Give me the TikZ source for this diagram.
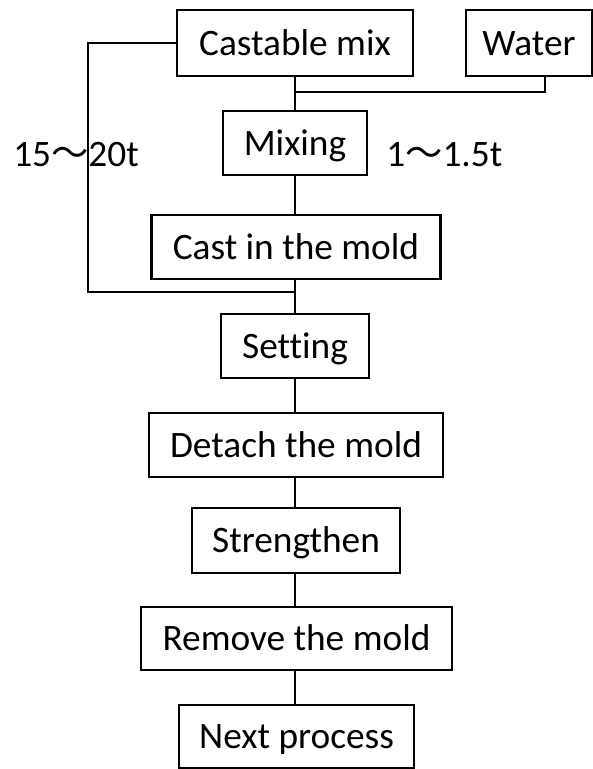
\documentclass[tikz,border=0pt]{standalone}
\usepackage{fontspec}
\setmainfont[Ligatures=CommonOff]{Carlito}
\newfontfamily\cjk{Noto Sans CJK SC}
\begin{document}
\begin{tikzpicture}[x=0.75pt,y=-0.75pt,
  stepbox/.style={draw,line width=1.9pt,rectangle,inner sep=0pt,
    font=\fontsize{28pt}{31pt}\selectfont,text height=18pt,text depth=0pt},
  conn/.style={line width=1.9pt},
  lbl/.style={inner sep=0pt,anchor=base west,font=\fontsize{28pt}{31pt}\selectfont}]
\useasboundingbox (0,0) rectangle (593,769);
\node[stepbox,minimum width=177pt,minimum height=49.5pt] (cast) at (295,43) {Castable mix};
\node[stepbox,minimum width=94.5pt,minimum height=49.5pt] (water) at (529,43) {Water};
\node[stepbox,minimum width=108pt,minimum height=48pt] (mix) at (295,143) {Mixing};
\node[stepbox,minimum width=216.75pt,minimum height=48pt] (castin) at (296,247) {Cast in the mold};
\node[stepbox,minimum width=111pt,minimum height=48pt] (set) at (295,346) {Setting};
\node[stepbox,minimum width=220.5pt,minimum height=48pt] (detach) at (296,445) {Detach the mold};
\node[stepbox,minimum width=156pt,minimum height=48.75pt] (strength) at (296,540.5) {Strengthen};
\node[stepbox,minimum width=233.25pt,minimum height=47.25pt] (remove) at (296.5,638.5) {Remove the mold};
\node[stepbox,minimum width=176.25pt,minimum height=47.25pt] (next) at (296.5,736.5) {Next process};
\node[lbl] (lA) at (13,166) {15{\cjk ～}20t};
\node[lbl] (lB) at (386,166) {1{\cjk ～}1.5t};
\coordinate (j) at (cast.south |- 0,92);
\coordinate (wdrop) at (545,76);
\coordinate (lt) at (88,43);
\coordinate (lb) at (88,292);
\coordinate (lp) at (cast.south |- 0,292);
\draw[conn] (cast.south) -- (mix.north);
\draw[conn] (wdrop) |- (j);
\draw[conn] (mix.south) -- (mix.south |- castin.north);
\draw[conn] (castin.south -| mix.south) -- (mix.south |- set.north);
\draw[conn] (cast.west) -- (lt) -- (lb) -- (lp);
\draw[conn] (set.south) -- (set.south |- detach.north);
\draw[conn] (detach.south -| set.south) -- (set.south |- strength.north);
\draw[conn] (strength.south -| set.south) -- (set.south |- remove.north);
\draw[conn] (remove.south -| set.south) -- (set.south |- next.north);
\end{tikzpicture}
\end{document}
